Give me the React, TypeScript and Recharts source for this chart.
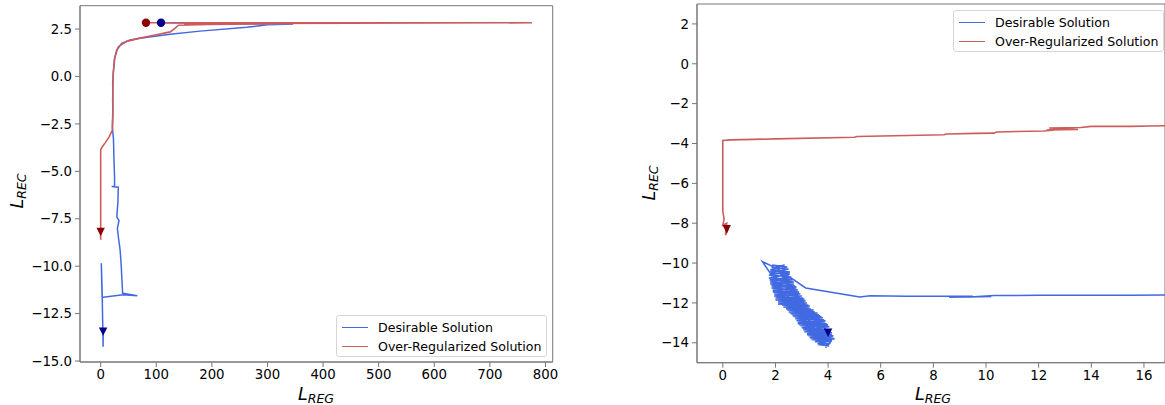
import React from 'react'
import { ComposedChart, Line, Scatter, XAxis, YAxis, ReferenceArea, Label } from 'recharts'

// tick labels
const leftXTicks = [0, 100, 200, 300, 400, 500, 600, 700, 800]
const leftYTicks = [2.5, 0, -2.5, -5, -7.5, -10, -12.5, -15]
const rightXTicks = [0, 2, 4, 6, 8, 10, 12, 14, 16]
const rightYTicks = [2, 0, -2, -4, -6, -8, -10, -12, -14]

// left panel trajectories (L_REG, L_REC)
const leftDesirable = [
  [108.5, 2.83], [346, 2.76], [300, 2.72], [262.7, 2.59], [178.7, 2.39], [124.7, 2.22], [70.7, 2.01],
  [52.7, 1.92], [37.8, 1.74], [28.8, 1.39], [24.5, 0.87], [21.6, -0.36], [22, -1.5], [21, -2.65],
  [23, -3.3], [24, -4.5], [25, -5.3], [25, -5.8], [19.8, -5.8], [31.7, -5.84], [31, -6.6], [29, -7.4],
  [33, -7.6], [30, -8.0], [32, -8.5], [35, -9.15], [37, -10.0], [38, -10.6], [39.5, -11.43],
  [65.9, -11.56], [40, -11.5], [4.8, -11.64], [2.5, -11.6], [1.1, -9.85], [2.5, -11.2], [3.5, -12.8],
  [4.4, -14.25], [4.4, -13.45],
]
const leftOverReg = [
  [81.5, 2.83], [775.7, 2.83], [300, 2.8], [150, 2.76], [300, 2.77], [193, 2.74], [140, 2.7],
  [134, 2.55], [125, 2.35], [100, 2.2], [70.7, 2.02], [46.8, 1.85], [31.7, 1.57], [25.7, 1.04],
  [22.5, 0.2], [21.6, -1.24], [22, -2.0], [21, -2.82], [15, -3.2], [8, -3.5], [3, -3.7], [0, -3.85],
  [0, -8.6], [0, -8.2],
]
const leftStarts = [{ x: 108.5, y: 2.83, c: '#00008B' }, { x: 81.5, y: 2.83, c: '#8B0000' }]
const leftEnds = [{ x: 4.4, y: -13.45, c: '#00008B' }, { x: 0, y: -8.2, c: '#8B0000' }]

// right panel trajectories
const rightDesirable = [
  [17.2, -11.6], [15.5, -11.62], [12, -11.62], [10.3, -11.63], [9.4, -11.7], [10.2, -11.68],
  [8.6, -11.72], [9.5, -11.66], [7, -11.66], [5.6, -11.64], [5.2, -11.7], [3.15, -11.25],
  [2.1, -10.3], [1.5, -9.92], [1.85, -10.6],
  // oscillating cluster, pass down
  [1.9, -10.1], [2.45, -10.2], [1.8, -10.35], [2.55, -10.45], [1.75, -10.6], [2.6, -10.7],
  [1.78, -10.85], [2.7, -10.95], [1.8, -11.05], [2.75, -11.15], [1.85, -11.25], [2.85, -11.35],
  [1.9, -11.45], [2.95, -11.55], [1.95, -11.65], [3.05, -11.75], [2.0, -11.85], [3.15, -11.9],
  [2.15, -12.0], [3.25, -12.1], [2.3, -12.2], [3.35, -12.3], [2.45, -12.35], [3.5, -12.45],
  [2.6, -12.55], [3.65, -12.6], [2.7, -12.7], [3.8, -12.75], [2.8, -12.9], [3.9, -12.95],
  [2.9, -13.1], [4.0, -13.15], [3.0, -13.25], [4.05, -13.35], [3.1, -13.45], [4.15, -13.5],
  [3.25, -13.65], [4.2, -13.7], [3.4, -13.85], [4.15, -13.9], [3.6, -14.05], [4.05, -14.05],
  [3.9, -14.25],
  // pass up
  [4.1, -13.95], [3.5, -13.95], [4.25, -13.8], [3.3, -13.75], [4.15, -13.6], [3.2, -13.55],
  [4.1, -13.4], [3.05, -13.35], [4.05, -13.2], [2.95, -13.15], [3.95, -13.05], [2.85, -13.0],
  [3.85, -12.85], [2.75, -12.8], [3.75, -12.7], [2.65, -12.65], [3.6, -12.5], [2.5, -12.45],
  [3.45, -12.4], [2.4, -12.25], [3.3, -12.2], [2.25, -12.1], [3.2, -12.0], [2.1, -11.95],
  [3.1, -11.8], [2.0, -11.75], [3.0, -11.65], [1.95, -11.55], [2.9, -11.45], [1.9, -11.35],
  [2.8, -11.25], [1.85, -11.15], [2.7, -11.05], [1.8, -10.95], [2.65, -10.8], [1.75, -10.75],
  [2.55, -10.55], [1.8, -10.5], [2.5, -10.3], [1.85, -10.25], [2.35, -10.1],
  // pass down again
  [2.2, -10.15], [1.85, -10.4], [2.5, -10.5], [1.8, -10.8], [2.65, -10.9], [1.85, -11.1],
  [2.8, -11.2], [1.9, -11.4], [2.9, -11.5], [2.0, -11.7], [3.1, -11.85], [2.1, -12.05],
  [3.3, -12.15], [2.4, -12.3], [3.45, -12.35], [2.55, -12.5], [3.7, -12.65], [2.75, -12.75],
  [3.9, -12.9], [2.85, -13.05], [4.0, -13.1], [3.05, -13.3], [4.1, -13.45], [3.2, -13.6],
  [4.2, -13.65], [3.35, -13.8], [4.1, -13.85], [3.7, -14.1], [4.0, -14.15],
  // middle pass up, then to the end point
  [3.9, -13.95], [3.6, -13.3], [3.5, -13.1], [3.2, -12.8], [3.1, -12.5], [2.8, -12.2],
  [2.7, -11.9], [2.4, -11.6], [2.45, -11.3], [2.2, -11.0], [2.3, -10.7], [2.1, -10.4],
  [4.0, -13.5],
]
const rightOverReg = [
  [17.2, -3.1], [16.2, -3.12], [15.5, -3.14], [14.0, -3.14], [13.6, -3.2], [12.4, -3.22],
  [13.5, -3.3], [12.3, -3.32], [13.3, -3.25], [12.2, -3.37], [10.4, -3.42], [10.3, -3.48],
  [9.6, -3.49], [8.5, -3.52], [8.4, -3.56], [7, -3.6], [5.1, -3.65], [5.0, -3.69], [2, -3.77],
  [0.3, -3.82], [0, -3.85], [0, -7.4], [0.05, -7.8], [0, -8.1], [0.15, -8.0], [0.1, -8.6],
  [0.2, -8.3], [0.15, -8.3],
]
const rightEnds = [{ x: 4.0, y: -13.5, c: '#00008B' }, { x: 0.15, y: -8.3, c: '#8B0000' }]

const legendItems = [
  { name: 'Desirable Solution', color: '#4169E1' },
  { name: 'Over-Regularized Solution', color: '#CD5C5C' },
]

const FONT = '"DejaVu Sans", sans-serif'
const toPts = (arr: number[][]) => arr.map(([x, y]) => ({ x, y }))
const minus = (s: string) => s.replace('-', '\u2212')

const Circle = (p: any) => <circle cx={p.cx} cy={p.cy} r={4.2} fill={p.payload.c} />
const TriDown = (p: any) => (
  <polygon
    points={`${p.cx - 4.2},${p.cy - 4.2} ${p.cx + 4.2},${p.cy - 4.2} ${p.cx},${p.cy + 4.2}`}
    fill={p.payload.c}
  />
)

function AxisTitle({ x, y, sub, vertical }: { x: number; y: number; sub: string; vertical?: boolean }) {
  return (
    <text
      transform={vertical ? `translate(${x},${y}) rotate(-90)` : `translate(${x},${y})`}
      textAnchor="middle"
      fontFamily={FONT}
      fill="#000"
    >
      <tspan fontStyle="italic" fontSize={17.5}>L</tspan>
      <tspan fontStyle="italic" fontSize={12.5} dy={3}>{sub}</tspan>
    </text>
  )
}

function LegendBox({ left, top }: { left: number; top: number }) {
  return (
    <div
      style={{
        position: 'absolute', left, top, width: 211, height: 42, boxSizing: 'border-box',
        border: '1px solid #d6d6d6', borderRadius: 3, background: 'rgba(255,255,255,0.8)',
        fontFamily: FONT, fontSize: 12.6, color: '#000',
      }}
    >
      {legendItems.map((it, i) => (
        <div key={it.name} style={{ position: 'absolute', left: 5, top: 2 + i * 19, height: 18, display: 'flex', alignItems: 'center' }}>
          <span style={{ display: 'inline-block', width: 26, height: 0, borderTop: `1.5px solid ${it.color}`, marginRight: 10 }} />
          <span style={{ whiteSpace: 'nowrap' }}>{it.name}</span>
        </div>
      ))}
    </div>
  )
}

const tickStyle = { fontSize: 13.3, fill: '#000', fontFamily: FONT }

export default function App() {
  return (
    <div style={{ position: 'absolute', left: 0, top: 0, width: 1165, height: 405, overflow: 'hidden', background: '#fff' }}>
      {/* left panel */}
      <div style={{ position: 'absolute', left: 0, top: 0 }}>
        <ComposedChart width={600} height={405} margin={{ top: 5.7, right: 47.3, bottom: 0, left: 0 }}>
          <XAxis
            type="number" dataKey="x" domain={[-37.2, 813]} ticks={leftXTicks} allowDataOverflow
            height={43} tickSize={5} tickMargin={3} tick={tickStyle} stroke="#777"
          >
            <Label content={() => <AxisTitle x={316} y={400} sub="REG" />} />
          </XAxis>
          <YAxis
            type="number" dataKey="y" domain={[-15.05, 3.73]} ticks={leftYTicks} allowDataOverflow
            width={80} tickSize={5} tickMargin={3} tick={tickStyle} stroke="#777"
            tickFormatter={(v: number) => minus(v.toFixed(1))}
          >
            <Label content={() => <AxisTitle x={23} y={191} sub="REC" vertical />} />
          </YAxis>
          <ReferenceArea x1={-37.2} x2={813} y1={-15.05} y2={3.73} fill="none" stroke="#777" strokeWidth={1} />
          <Line data={toPts(leftDesirable)} dataKey="y" type="linear" stroke="#4169E1" strokeWidth={1.5} dot={false} isAnimationActive={false} />
          <Line data={toPts(leftOverReg)} dataKey="y" type="linear" stroke="#CD5C5C" strokeWidth={1.6} dot={false} isAnimationActive={false} />
          <Scatter data={leftStarts} dataKey="y" shape={Circle} isAnimationActive={false} />
          <Scatter data={leftEnds} dataKey="y" shape={TriDown} isAnimationActive={false} />
        </ComposedChart>
        <LegendBox left={336} top={315} />
      </div>

      {/* right panel */}
      <div style={{ position: 'absolute', left: 617, top: 0 }}>
        <ComposedChart width={548} height={405} margin={{ top: 4, right: 0, bottom: 0, left: 0 }}>
          <XAxis
            type="number" dataKey="x" domain={[-0.98, 16.8]} ticks={rightXTicks} allowDataOverflow
            height={42.3} tickSize={5} tickMargin={3} tick={tickStyle} stroke="#777"
          >
            <Label content={() => <AxisTitle x={316} y={400} sub="REG" />} />
          </XAxis>
          <YAxis
            type="number" dataKey="y" domain={[-15, 3]} ticks={rightYTicks} allowDataOverflow
            width={80} tickSize={5} tickMargin={3} tick={tickStyle} stroke="#777"
            tickFormatter={(v: number) => minus(String(v))}
          >
            <Label content={() => <AxisTitle x={38} y={183} sub="REC" vertical />} />
          </YAxis>
          <ReferenceArea x1={-0.98} x2={16.8} y1={-15} y2={3} fill="none" stroke="#777" strokeWidth={1} />
          <Line data={toPts(rightDesirable)} dataKey="y" type="linear" stroke="#4169E1" strokeWidth={1.5} dot={false} isAnimationActive={false} />
          <Line data={toPts(rightOverReg)} dataKey="y" type="linear" stroke="#CD5C5C" strokeWidth={1.6} dot={false} isAnimationActive={false} />
          <Scatter data={rightEnds} dataKey="y" shape={TriDown} isAnimationActive={false} />
        </ComposedChart>
        <LegendBox left={953 - 617} top={10} />
      </div>
    </div>
  )
}
